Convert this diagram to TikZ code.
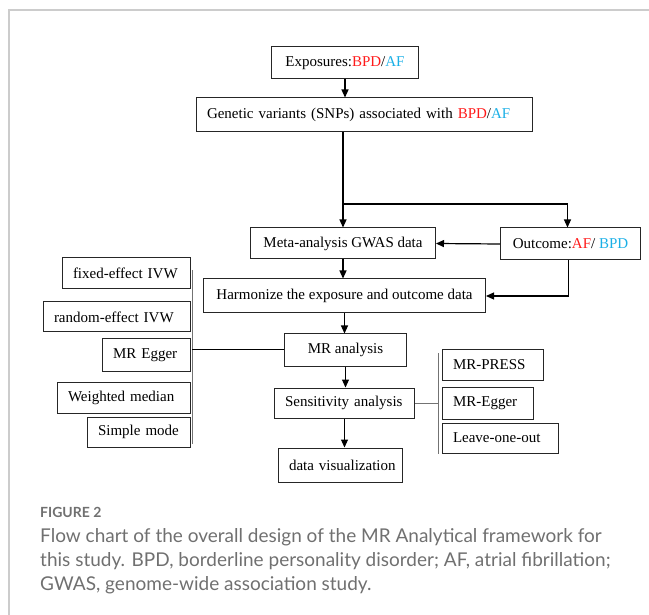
\documentclass[tikz,border=0pt]{standalone}
\usepackage{fontspec}
\setmainfont{Liberation Serif}
\newfontfamily\capfont{Lato}
\usetikzlibrary{arrows.meta}
\usetikzlibrary{calc}
\definecolor{bpdred}{HTML}{FF1A1A}
\definecolor{afblue}{HTML}{1AAFE6}
\definecolor{framegray}{HTML}{CCCCCC}
\definecolor{capgray}{HTML}{707070}

\begin{document}
\begin{tikzpicture}[x=1pt, y=-1pt, >={Triangle[length=8pt, width=7pt]},
  box/.style={draw=black!85, line width=1pt, anchor=west, inner xsep=10.5pt, inner ysep=0pt, font=\fontsize{15}{18}\selectfont},
  lbox/.style={box, text width=#1, execute at begin node=\hbox\bgroup, execute at end node=\egroup}]
    \tikzset{link/.style={line width=1.2pt, draw=black}}
    \tikzset{brace/.style={line width=1pt, draw=black!55}}
    \useasboundingbox (0,0) rectangle (649,615);
    % frame of the figure
    \draw[framegray, line width=1.2pt] (9,615) -- (9,10) -- (649,10);

    % main column
    \node[box, minimum width=147pt, minimum height=32pt] (expo) at (271,63) {Exposures:\textcolor{bpdred}{BPD}/\textcolor{afblue}{AF}};
    \node[lbox=315pt, minimum height=34pt] (snps) at (196,115) {Genetic variants (SNPs) associated with \textcolor{bpdred}{BPD}/\textcolor{afblue}{AF}};
    \node[box, minimum width=185pt, minimum height=31pt] (meta) at (250,243.5) {Meta-analysis GWAS data};
    \node[box, minimum width=140pt, minimum height=32pt] (outc) at (500,244) {Outcome:\textcolor{bpdred}{AF}/ \textcolor{afblue}{BPD}};
    \node[box, minimum width=282pt, minimum height=34pt] (harm) at (203,296) {Harmonize the exposure and outcome data};
    \node[box, minimum width=122pt, minimum height=32pt] (mr) at (284,350) {MR analysis};
    \node[lbox=119pt, minimum height=30pt] (sens) at (274,403) {Sensitivity analysis};
    \node[lbox=103pt, minimum height=34pt] (vis) at (278,465) {data visualization};

    % MR methods
    \node[lbox=107pt, minimum height=31pt] (fixed) at (62,273.5) {fixed-effect IVW};
    \node[lbox=126pt, minimum height=30pt] (random) at (43,317) {random-effect IVW};
    \node[lbox=67pt, minimum height=32pt] (egger) at (102,355) {MR Egger};
    \node[lbox=112pt, minimum height=31pt] (wmed) at (57,397.5) {Weighted median};
    \node[lbox=82pt, minimum height=30pt] (smode) at (87,432) {Simple mode};

    % sensitivity methods
    \node[lbox=80pt, minimum height=30pt] (press) at (442,365) {MR-PRESS};
    \node[lbox=70pt, minimum height=32pt] (egger2) at (442,403) {MR-Egger};
    \node[lbox=95pt, minimum height=30pt] (loo) at (442,438) {Leave-one-out};

    \coordinate (split) at (snps.south -| meta.north);
    \coordinate (fork) at (342.5,204);
    \coordinate (lb1) at (192,270); \coordinate (lb2) at (192,444);
    \coordinate (rb1) at (438,353); \coordinate (rb2) at (438,454);

    \draw[link, ->] (expo.south) -- (expo.south |- snps.north);
    \draw[link, ->] (split) -- (meta.north);
    \draw[link, ->] (fork) -| ([xshift=-3pt]outc.north);
    \draw[link, ->] (outc.west) -- (meta.east);
    \draw[link, ->] (meta.south) -- (meta.south |- harm.north);
    \draw[link, ->] ([xshift=-2pt]outc.south) |- (harm.east);
    \draw[link, ->] (harm.south) -- (harm.south |- mr.north);
    \draw[link, ->] (mr.south) -- (mr.south |- sens.north);
    \draw[link, ->] (sens.south) -- (sens.south |- vis.north);

    \draw[brace] (lb1) -- (lb2);
    \draw[link, line width=1pt] (mr.west) -- (mr.west -| lb1);
    \draw[brace] (rb1) -- (rb2);
    \draw[brace] (sens.east) -- (sens.east -| rb1);

    % caption
    \node[anchor=base west, inner sep=0pt, font=\capfont\bfseries\fontsize{14}{16}\selectfont, text=capgray] (fig) at (40,517) {FIGURE 2};
    \node[anchor=base west, inner sep=0pt, font=\capfont\fontsize{19}{24}\selectfont, text=capgray] (cap1) at (40,542) {Flow chart of the overall design of the MR Analytical framework for};
    \node[anchor=base west, inner sep=0pt, font=\capfont\fontsize{19}{24}\selectfont, text=capgray] (cap2) at (40,566) {this study. BPD, borderline personality disorder; AF, atrial fibrillation;};
    \node[anchor=base west, inner sep=0pt, font=\capfont\fontsize{19}{24}\selectfont, text=capgray] (cap3) at (40,590) {GWAS, genome-wide association study.};
\end{tikzpicture}
\end{document}
